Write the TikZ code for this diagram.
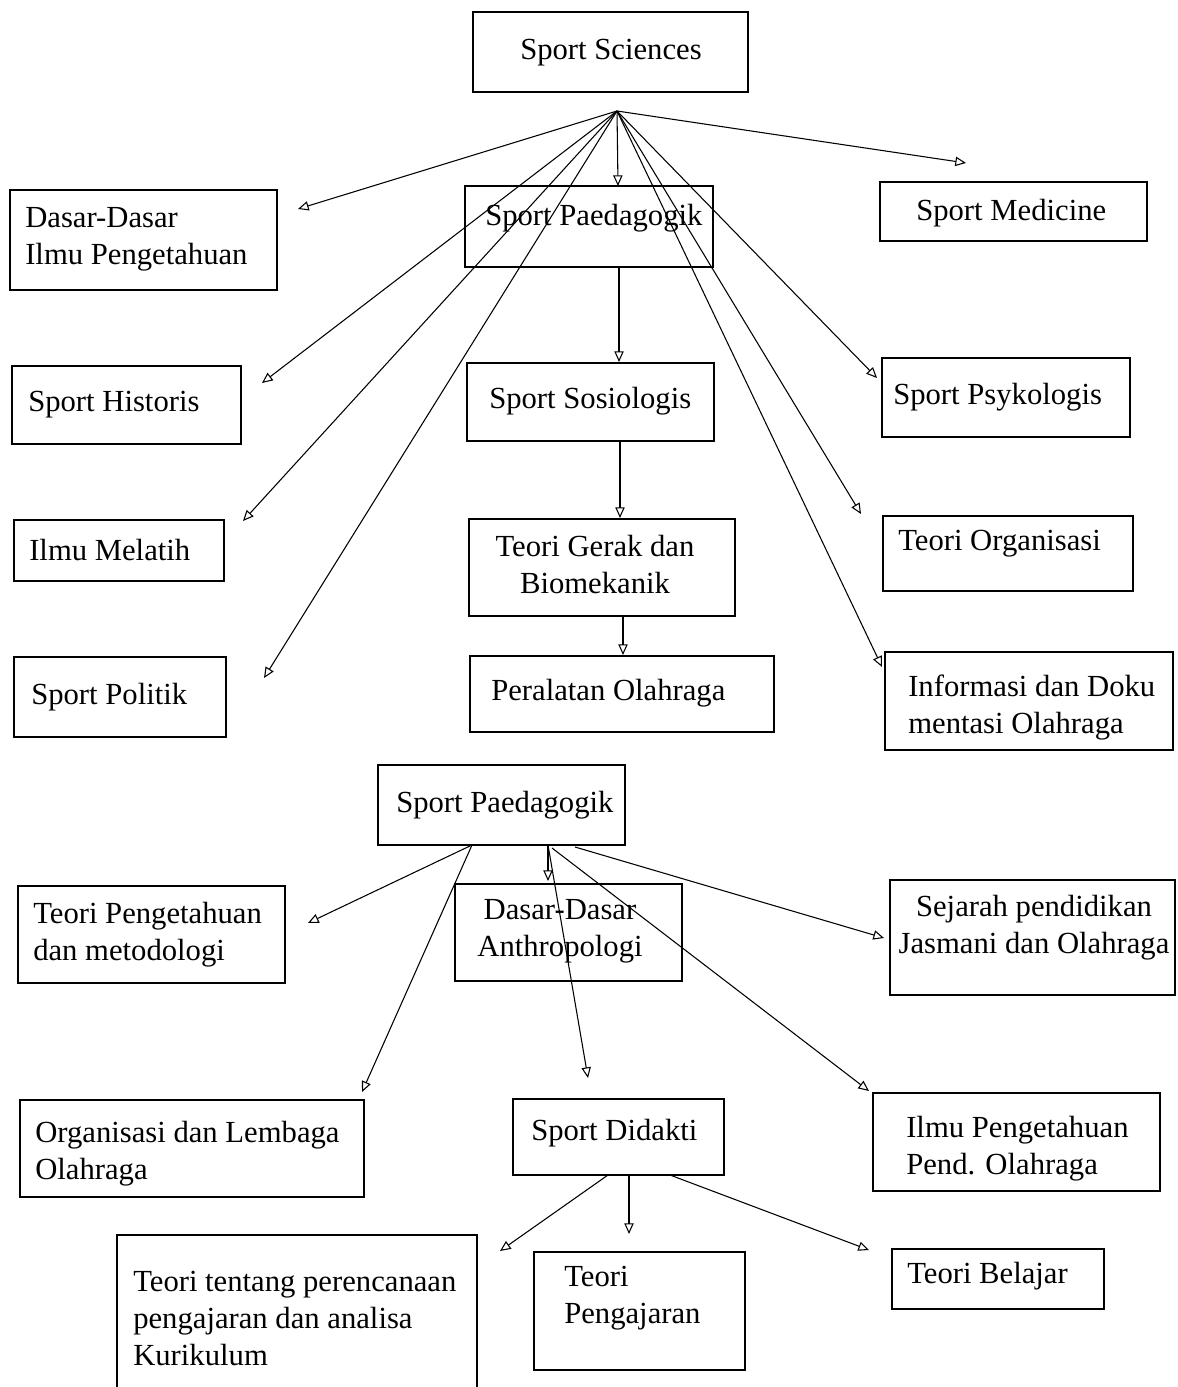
\documentclass[tikz,border=0pt]{standalone}
\usepackage{fontspec}
\setmainfont{Liberation Serif}
\usetikzlibrary{arrows.meta,fit}
\tikzset{
  box/.style={draw, line width=0.9pt, inner sep=0pt},
  txt/.style={inner sep=0pt, yshift=-2.25pt, font=\fontsize{23}{27.75}\selectfont},
  conn/.style={line width=0.8pt, -{Triangle[open,length=8pt,width=7pt]}},
}
\begin{document}
\begin{tikzpicture}[x=0.75pt,y=-0.75pt]
\useasboundingbox (0,0) rectangle (1177,1387);
% boxes
\node[box, fit={(473,12) (748,92)}] (b1) {};
\node[box, fit={(10,190) (277,290)}] (b2) {};
\node[box, fit={(465,186) (713,267)}] (b3) {};
\node[box, fit={(880,182) (1147,241)}] (b4) {};
\node[box, fit={(12,366) (241,444)}] (b5) {};
\node[box, fit={(467,363) (714,441)}] (b6) {};
\node[box, fit={(882,358) (1130,437)}] (b7) {};
\node[box, fit={(14,520) (224,581)}] (b8) {};
\node[box, fit={(469,519) (735,616)}] (b9) {};
\node[box, fit={(883,516) (1133,591)}] (b10) {};
\node[box, fit={(14,657) (226,737)}] (b11) {};
\node[box, fit={(470,656) (774,732)}] (b12) {};
\node[box, fit={(885,652) (1173,750)}] (b13) {};
\node[box, fit={(378,765) (625,845)}] (b14) {};
\node[box, fit={(18,886) (285,983)}] (b15) {};
\node[box, fit={(455,884) (682,981)}] (b16) {};
\node[box, fit={(890,880) (1175,995)}] (b17) {};
\node[box, fit={(20,1100) (364,1197)}] (b18) {};
\node[box, fit={(513,1099) (724,1175)}] (b19) {};
\node[box, fit={(873,1093) (1160,1191)}] (b20) {};
\node[box, fit={(117,1235) (477,1400)}] (b21) {};
\node[box, fit={(534,1252) (745,1370)}] (b22) {};
\node[box, fit={(892,1249) (1104,1309)}] (b23) {};
% texts
\node[txt, anchor=west] (t1) at (520,50) {Sport Sciences};
\node[txt, anchor=west, align=left] (t2) at (25,236) {Dasar-Dasar\\Ilmu Pengetahuan};
\node[txt, anchor=west] (t3) at (485,215) {Sport Paedagogik};
\node[txt, anchor=west] (t4) at (916,210) {Sport Medicine};
\node[txt, anchor=west] (t5) at (28,402) {Sport Historis};
\node[txt, anchor=west] (t6) at (489,398) {Sport Sosiologis};
\node[txt, anchor=west] (t7) at (893,394) {Sport Psykologis};
\node[txt, anchor=west] (t8) at (29,547) {Ilmu Melatih};
\node[txt, align=center] (t9) at (595,562) {Teori Gerak dan\\Biomekanik};
\node[txt, anchor=west] (t10) at (898,541) {Teori Organisasi};
\node[txt, anchor=west] (t11) at (31,694) {Sport Politik};
\node[txt, anchor=west] (t12) at (491,690) {Peralatan Olahraga};
\node[txt, anchor=west, align=left] (t13) at (908,705) {Informasi dan Doku\\mentasi Olahraga};
\node[txt, anchor=west] (t14) at (396,802) {Sport Paedagogik};
\node[txt, anchor=west, align=left] (t15) at (33,932) {Teori Pengetahuan\\dan metodologi};
\node[txt, align=center] (t16) at (560,928) {Dasar-Dasar\\Anthropologi};
\node[txt, align=center] (t17) at (1034,925) {Sejarah pendidikan\\Jasmani dan Olahraga};
\node[txt, anchor=west, align=left] (t18) at (35,1151) {Organisasi dan Lembaga\\Olahraga};
\node[txt, anchor=west] (t19) at (531,1130) {Sport Didakti};
\node[txt, anchor=west, align=left] (t20) at (906,1146) {Ilmu Pengetahuan\\Pend. Olahraga};
\node[txt, anchor=west, align=left] (t21) at (133,1315) {Teori tentang perencanaan\\pengajaran dan analisa\\Kurikulum};
\node[txt, anchor=west, align=left] (t22) at (564,1295) {Teori\\Pengajaran};
\node[txt, anchor=west] (t23) at (907,1273) {Teori Belajar};
% coordinates
\coordinate (hub) at (617,111);
\coordinate (e2) at (298,209);
\coordinate (e3) at (618,186);
\coordinate (e4) at (966,163);
\coordinate (e5) at (262,383);
\coordinate (e8) at (243,521);
\coordinate (e11) at (264,678);
\coordinate (e7) at (877,378);
\coordinate (e10) at (861,514);
\coordinate (e13) at (882,667);
\coordinate (p3) at (619,267);
\coordinate (e6) at (619,362);
\coordinate (p6) at (620,441);
\coordinate (e9) at (620,518);
\coordinate (p9) at (623,616);
\coordinate (e12) at (623,655);
\coordinate (q1) at (472,845);
\coordinate (q2) at (548,845);
\coordinate (q3) at (552,848);
\coordinate (q4) at (575,847);
\coordinate (e15) at (308,923);
\coordinate (e18) at (362,1092);
\coordinate (e16) at (548,881);
\coordinate (e19) at (588,1078);
\coordinate (e20) at (869,1091);
\coordinate (e17) at (884,938);
\coordinate (r1) at (608,1175);
\coordinate (r2) at (629,1175);
\coordinate (r3) at (670,1175);
\coordinate (e21) at (500,1251);
\coordinate (e22) at (629,1234);
\coordinate (e23) at (869,1250);
% connectors
\draw[conn] (hub) -- (e2);
\draw[conn] (hub) -- (e3);
\draw[conn] (hub) -- (e4);
\draw[conn] (hub) -- (e5);
\draw[conn] (hub) -- (e8);
\draw[conn] (hub) -- (e11);
\draw[conn] (hub) -- (e7);
\draw[conn] (hub) -- (e10);
\draw[conn] (hub) -- (e13);
\draw[conn] (p3) -- (e6);
\draw[conn] (p6) -- (e9);
\draw[conn] (p9) -- (e12);
\draw[conn] (q1) -- (e15);
\draw[conn] (q1) -- (e18);
\draw[conn] (q2) -- (e16);
\draw[conn] (q2) -- (e19);
\draw[conn] (q3) -- (e20);
\draw[conn] (q4) -- (e17);
\draw[conn] (r1) -- (e21);
\draw[conn] (r2) -- (e22);
\draw[conn] (r3) -- (e23);
\end{tikzpicture}
\end{document}
